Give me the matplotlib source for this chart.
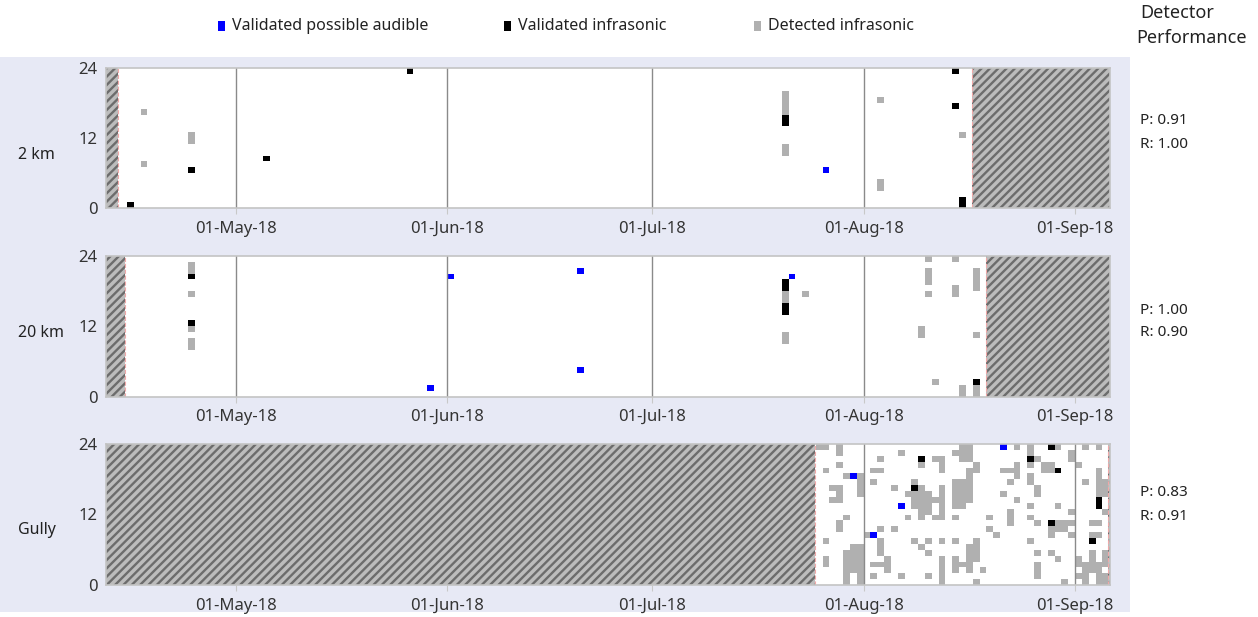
import matplotlib
matplotlib.use('Agg')
import matplotlib.pyplot as plt
import matplotlib.dates as mdates
from matplotlib.patches import Rectangle
import pandas as pd

plt.rcParams['font.family'] = ['Noto Sans', 'DejaVu Sans']
plt.rcParams['hatch.linewidth'] = 1.7

# ---------------- data ----------------
panel_names = ['2 km', '20 km', 'Gully']
precision = ['0.91', '1.00', '0.83']
recall = ['1.00', '0.90', '0.91']

class_labels = ['Validated possible audible', 'Validated infrasonic', 'Detected infrasonic']
class_colors = {'b': '#0000ff', 'k': '#000000', 'g': '#b0b0b0'}
class_order = ['b', 'k', 'g']

x_start = '2018-04-11 22:30'
x_end = '2018-09-06 03:00'
month_ticks = ['2018-05-01', '2018-06-01', '2018-07-01', '2018-08-01', '2018-09-01']

# no-data (hatched) periods per panel
km2_nodata = [('2018-04-11 22:30', '2018-04-13 18:00'), ('2018-08-16 21:00', '2018-09-06 03:00')]
km20_nodata = [('2018-04-11 22:30', '2018-04-14 17:30'), ('2018-08-18 22:00', '2018-09-06 03:00')]
gully_nodata = [('2018-04-11 22:30', '2018-07-24 22:00'), ('2018-09-05 20:00', '2018-09-06 03:00')]

# detections: (day, hour, class)
km2_events = [
    ('2018-04-15', 0, 'k'),
    ('2018-04-17', 16, 'g'), ('2018-04-17', 7, 'g'),
    ('2018-04-24', 12, 'g'), ('2018-04-24', 11, 'g'), ('2018-04-24', 6, 'k'),
    ('2018-05-05', 8, 'k'),
    ('2018-05-26', 23, 'k'),
    ('2018-07-20', 19, 'g'), ('2018-07-20', 18, 'g'), ('2018-07-20', 17, 'g'),
    ('2018-07-20', 16, 'g'), ('2018-07-20', 15, 'k'), ('2018-07-20', 14, 'k'),
    ('2018-07-20', 10, 'g'), ('2018-07-20', 9, 'g'),
    ('2018-07-26', 6, 'b'),
    ('2018-08-03', 18, 'g'), ('2018-08-03', 4, 'g'), ('2018-08-03', 3, 'g'),
    ('2018-08-14', 23, 'k'), ('2018-08-14', 17, 'k'),
    ('2018-08-15', 12, 'g'), ('2018-08-15', 1, 'k'), ('2018-08-15', 0, 'k'),
]

km20_events = [
    ('2018-04-24', 22, 'g'), ('2018-04-24', 21, 'g'), ('2018-04-24', 20, 'k'),
    ('2018-04-24', 17, 'g'), ('2018-04-24', 12, 'k'), ('2018-04-24', 11, 'g'),
    ('2018-04-24', 9, 'g'), ('2018-04-24', 8, 'g'),
    ('2018-05-29', 1, 'b'),
    ('2018-06-01', 20, 'b'),
    ('2018-06-20', 21, 'b'), ('2018-06-20', 4, 'b'),
    ('2018-07-20', 19, 'k'), ('2018-07-20', 18, 'k'), ('2018-07-20', 17, 'g'),
    ('2018-07-20', 16, 'g'), ('2018-07-20', 15, 'k'), ('2018-07-20', 14, 'k'),
    ('2018-07-20', 10, 'g'), ('2018-07-20', 9, 'g'),
    ('2018-07-21', 20, 'b'),
    ('2018-07-23', 17, 'g'),
    ('2018-08-09', 11, 'g'), ('2018-08-09', 10, 'g'),
    ('2018-08-10', 23, 'g'), ('2018-08-10', 21, 'g'), ('2018-08-10', 20, 'g'),
    ('2018-08-10', 19, 'g'), ('2018-08-10', 17, 'g'),
    ('2018-08-11', 2, 'g'),
    ('2018-08-14', 23, 'g'), ('2018-08-14', 18, 'g'), ('2018-08-14', 17, 'g'),
    ('2018-08-15', 1, 'g'), ('2018-08-15', 0, 'g'),
    ('2018-08-17', 21, 'g'), ('2018-08-17', 20, 'g'), ('2018-08-17', 19, 'g'),
    ('2018-08-17', 18, 'g'), ('2018-08-17', 10, 'g'), ('2018-08-17', 2, 'k'),
    ('2018-08-17', 1, 'g'), ('2018-08-17', 0, 'g'),
]

# Gully: day index counted from gully_first_day; per hour lists of day indices
gully_first_day = '2018-07-25'
gully_gray = {
    23: [0, 1, 3, 21, 22, 29, 31, 35, 39, 41],
    22: [3, 12, 20, 21, 22, 31, 37],
    21: [9, 17, 18, 21, 22, 32, 37],
    20: [3, 15, 18, 23, 29, 31, 33, 34, 38],
    19: [1, 8, 9, 18, 22, 23, 27, 28, 29, 33, 34, 41],
    18: [4, 6, 22, 29, 31, 41],
    17: [6, 8, 14, 20, 21, 22, 28, 31, 39, 41, 42],
    16: [2, 3, 6, 11, 15, 18, 20, 21, 22, 32, 41, 42],
    15: [3, 6, 13, 14, 15, 16, 18, 20, 21, 22, 27, 32, 41, 42],
    14: [2, 3, 14, 15, 16, 17, 18, 20, 21, 22, 29],
    13: [14, 15, 16, 18, 20, 21, 31, 35],
    12: [15, 16, 18, 28, 37, 42],
    11: [4, 13, 15, 17, 18, 20, 25, 28, 31],
    10: [3, 28, 32, 35, 36, 37, 40, 41],
    9: [3, 9, 11, 25, 34, 35, 36],
    8: [7, 26, 34, 37, 40, 41],
    7: [1, 9, 14, 16, 18, 20, 23, 31],
    6: [5, 6, 9, 15, 22, 23],
    5: [4, 5, 6, 9, 16, 22, 23, 32, 34, 40, 42],
    4: [1, 4, 5, 6, 10, 18, 20, 22, 23, 35, 38, 40, 42],
    3: [1, 4, 5, 6, 8, 9, 10, 18, 20, 21, 22, 32, 38, 39, 40, 41, 42],
    2: [4, 5, 6, 10, 18, 20, 22, 24, 32, 39, 40, 41],
    1: [4, 6, 8, 12, 16, 18, 32, 38, 39, 41, 42],
    0: [4, 6, 18, 23, 36, 39, 41, 42],
}
gully_black = [(15, 21), (31, 21), (34, 23), (35, 19), (14, 16), (41, 14), (41, 13), (34, 10), (40, 7)]
gully_blue = [(5, 18), (12, 13), (8, 8), (27, 23)]


def gully_events():
    base = pd.Timestamp(gully_first_day)
    ev = []
    for h, days in gully_gray.items():
        for d in days:
            ev.append(((base + pd.Timedelta(days=d)).strftime('%Y-%m-%d'), h, 'g'))
    for d, h in gully_black:
        ev.append(((base + pd.Timedelta(days=d)).strftime('%Y-%m-%d'), h, 'k'))
    for d, h in gully_blue:
        ev.append(((base + pd.Timedelta(days=d)).strftime('%Y-%m-%d'), h, 'b'))
    return ev


panel_events = [km2_events, km20_events, gully_events()]
panel_nodata = [km2_nodata, km20_nodata, gully_nodata]

# ---------------- figure ----------------
W, H = 1258, 617
fig = plt.figure(figsize=(W / 100, H / 100), dpi=100)
fig.patch.set_facecolor('white')

# lavender background panel
fig.patches.append(Rectangle((0, 0.008), 1130 / W, 1 - 57 / H - 0.008, transform=fig.transFigure,
                             facecolor='#e7e9f5', edgecolor='none', zorder=-10))

panel_px = [(67.7, 208.3), (256.0, 396.7), (444.0, 585.0)]
left_px, right_px = 106, 1110
label_y = [155, 333, 530]
pr_y = [121, 310, 493]

tick_nums = mdates.date2num(pd.to_datetime(month_ticks))
xlo = mdates.date2num(pd.Timestamp(x_start))
xhi = mdates.date2num(pd.Timestamp(x_end))

for i in range(3):
    top, bot = panel_px[i]
    ax = fig.add_axes([left_px / W, 1 - bot / H, (right_px - left_px) / W, (bot - top) / H])
    ax.set_facecolor('white')

    ev = panel_events[i]
    for c in ['g', 'k', 'b']:
        xs = [mdates.date2num(pd.Timestamp(d)) for d, h, cc in ev if cc == c]
        hs = [h for d, h, cc in ev if cc == c]
        if xs:
            ax.bar(xs, [1] * len(xs), bottom=hs, width=1.0, align='edge',
                   color=class_colors[c], linewidth=0, zorder=2)

    for t in tick_nums:
        ax.axvline(t, color='#8a8a8a', lw=1.0, zorder=2.5)

    for s, e in panel_nodata[i]:
        s_n = mdates.date2num(pd.Timestamp(s))
        e_n = mdates.date2num(pd.Timestamp(e))
        ax.axvspan(s_n, e_n, facecolor='#bcbcbc', edgecolor='#6c6c6c', hatch='////',
                   linewidth=0, zorder=3)
        for b in (s_n, e_n):
            if xlo + 0.2 < b < xhi - 0.05:
                ax.axvline(b, color='#f0a8a8', lw=0.8, ls='--', zorder=3.5)

    ax.set_xlim(xlo, xhi)
    ax.set_ylim(0, 24)
    ax.set_yticks([0, 12, 24])
    ax.set_xticks(tick_nums)
    ax.xaxis.set_major_formatter(mdates.DateFormatter('%d-%b-%y'))
    ax.tick_params(axis='x', length=4, color='#c8c8c8', pad=5, labelsize=12, labelcolor='#333333')
    ax.tick_params(axis='y', length=0, pad=6, labelsize=12, labelcolor='#333333')
    for sp in ax.spines.values():
        sp.set_color('#c4c4c4')
        sp.set_linewidth(1.2)
        sp.set_zorder(4)

    fig.text(18 / W, 1 - label_y[i] / H, panel_names[i], fontsize=11.5, color='#222222',
             ha='left', va='center')
    fig.text(1140 / W, 1 - pr_y[i] / H, 'P: ' + precision[i], fontsize=11, color='#222222',
             ha='left', va='center')
    fig.text(1140 / W, 1 - (pr_y[i] + 23) / H, 'R: ' + recall[i], fontsize=11, color='#222222',
             ha='left', va='center')

# legend (manual layout)
leg_x = [221, 507, 757]
for j, c in enumerate(class_order):
    fig.patches.append(Rectangle(((leg_x[j] - 3) / W, 1 - 31 / H), 7 / W, 10 / H,
                                 transform=fig.transFigure, facecolor=class_colors[c],
                                 edgecolor='none'))
    fig.text((leg_x[j] + 11) / W, 1 - 26 / H, class_labels[j], fontsize=11.5, color='#222222',
             ha='left', va='center')

fig.text(1140 / W, 1 - 13 / H, 'Detector', fontsize=13, color='#222222', ha='left', va='center')
fig.text(1136 / W, 1 - 38 / H, 'Performance', fontsize=13, color='#222222', ha='left', va='center')

fig.savefig('out.png', dpi=100)
